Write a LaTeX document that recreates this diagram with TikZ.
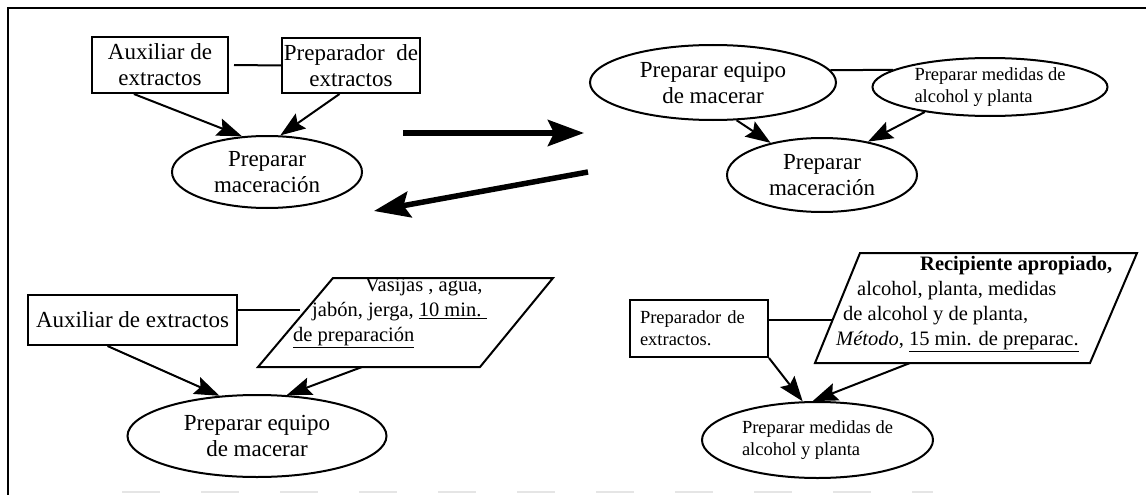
\documentclass[tikz,border=0pt]{standalone}
\usepackage{fontspec}
\setmainfont{Liberation Serif}
\usetikzlibrary{shapes.geometric,arrows.meta,calc}

\begin{document}
\begin{tikzpicture}[x=1pt,y=-1pt,
  every node/.style={inner sep=0pt, text=black},
  big/.style={font=\fontsize{23}{26}\selectfont},
  small/.style={font=\fontsize{18.5}{22}\selectfont},
  mid/.style={font=\fontsize{20.5}{25}\selectfont},
  box/.style={draw, line width=2pt, rectangle, align=center},
  oval/.style={draw, line width=2pt, ellipse, align=center},
  link/.style={line width=2pt},
  flow/.style={line width=2pt, -{Stealth[length=25pt,width=18pt,inset=4pt]}},
  bigflow/.style={line width=5.5pt, -{Stealth[length=36pt,width=26pt,inset=6pt]}},
]
\useasboundingbox (0,0) rectangle (1146,495);

% outer frame (top and left sides) and faint bottom rule
\draw[line width=2.2pt] (8,495) -- (8,8) -- (1146,8);
\draw[gray!20, line width=2pt, dash pattern=on 38pt off 41pt] (122,492) -- (933,492);

% ---- step 1: roles and the maceration task
\node[box,big,minimum width=136pt,minimum height=56pt] (aux1) at (160,65) {Auxiliar de\\extractos};
\node[box,big,minimum width=138pt,minimum height=55pt] (prep1) at (351,65.5) {Preparador\enspace de\\extractos};
\node[oval,big,minimum width=190pt,minimum height=72pt] (mac1) at (267,172) {Preparar\\maceración};
\draw[link] ([xshift=5pt]aux1.east) -- (prep1.west);
\draw[flow] (aux1.228) -- (mac1.125);
\draw[flow] (prep1.248) -- (mac1.70);

% ---- transitions between the stages
\coordinate (fwdA) at (403,133);
\coordinate (fwdB) at (584,133);
\draw[bigflow] (fwdA) -- (fwdB);
\coordinate (backA) at (588,172);
\coordinate (backB) at (374,211);
\draw[bigflow] (backA) -- (backB);

% ---- step 2: sub-tasks of the maceration
\node[oval,big,minimum width=246pt,minimum height=75pt] (eq1) at (713,82.5) {Preparar equipo\\de macerar};
\node[oval,small,minimum width=235pt,minimum height=58pt,align=left] (med1) at (990,87) {Preparar medidas de\\alcohol y planta};
\node[oval,big,minimum width=190pt,minimum height=74pt] (mac2) at (822,175) {Preparar\\maceración};
\draw[link] (eq1.6) -- (med1.170);
\draw[flow] (eq1.302) -- (mac2.148);
\draw[flow] (med1.201) -- (mac2.36);

% ---- step 3: preparing the equipment
\node[box,big,minimum width=209pt,minimum height=50pt] (aux2) at (132.5,320) {Auxiliar de extractos};
\coordinate (pa1) at (333,278);
\coordinate (pa2) at (553,278);
\coordinate (pa3) at (480,367);
\coordinate (pa4) at (258,367);
\draw[link] (pa1) -- (pa2) -- (pa3) -- (pa4) -- cycle;
\node[mid,align=left,anchor=north west] (vas) at (293,278)
  {\hspace*{72pt}Vasijas , agua,\\
   \hspace*{19pt}jabón, jerga, \underline{10 min.~}\\
   \underline{de preparación}};
\node[oval,big,minimum width=259pt,minimum height=82pt] (eq2) at (257,436) {Preparar equipo\\de macerar};
\coordinate (paL) at (300,310);
\coordinate (paB) at (362,367);
\draw[link] ([yshift=10pt]aux2.east) -- (paL);
\draw[flow] ([xshift=-25pt]aux2.south) -- (eq2.133);
\draw[flow] (paB) -- (eq2.54);

% ---- step 4: preparing the measures
\node[box,small,minimum width=138pt,minimum height=57pt,align=left,text width=118pt] (box2) at (699,328.5) {Preparador de\\extractos.};
\coordinate (pb1) at (860,253);
\coordinate (pb2) at (1137,253);
\coordinate (pb3) at (1090,363);
\coordinate (pb4) at (815,363);
\draw[link] (pb1) -- (pb2) -- (pb3) -- (pb4) -- cycle;
\node[mid,align=left,anchor=north west] (rec) at (836,256)
  {\hspace*{84pt}\textbf{Recipiente apropiado,}\\
   \hspace*{21pt}alcohol, planta, medidas\\
   \hspace*{7pt}de alcohol y de planta,\\
   \textit{Método}, \underline{15 min. de preparac.}};
\node[oval,small,minimum width=231pt,minimum height=76pt,align=left] (med2) at (817.5,440) {Preparar medidas de\\alcohol y planta};
\coordinate (pbL) at (832,320);
\coordinate (pbB) at (910,363);
\draw[link] ([yshift=8.5pt]box2.east) -- (pbL);
\draw[flow] (box2.south east) -- (med2.111);
\draw[flow] (pbB) -- (med2.97);
\end{tikzpicture}
\end{document}
